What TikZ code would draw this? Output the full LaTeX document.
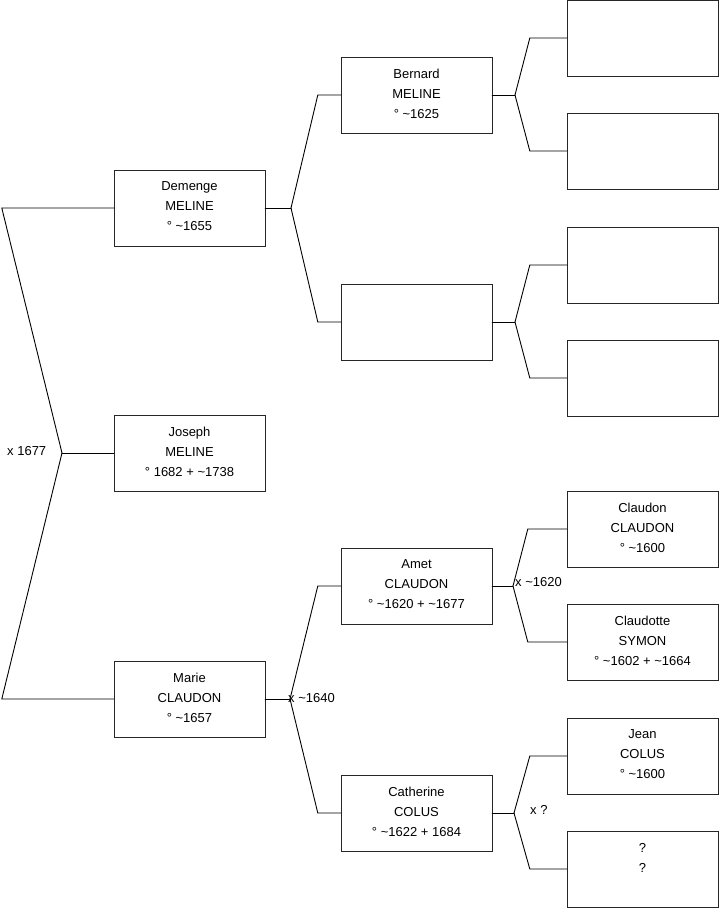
\documentclass[tikz,border=0pt]{standalone}
\usepackage{fontspec}
\setmainfont{Liberation Sans}
\usetikzlibrary{positioning}
\newcommand{\circa}{\textasciitilde}
\tikzset{pers/.style={draw=black!85,fill=white,minimum width=151pt,minimum height=76pt,align=center,inner sep=0pt,text depth=3pt},
 wire/.style={draw=black,line width=.9pt,line cap=round},lab/.style={anchor=west,inner sep=0pt}}
\begin{document}
\begin{tikzpicture}[x=1pt,y=-1pt,font=\fontsize{13}{20}\selectfont]
\useasboundingbox (0,0) rectangle (719,908);
% generation 1
\node[pers](dem) at (189.5,208){Demenge\\MELINE\\° \circa1655};
\node[pers](jos) at (189.5,453){Joseph\\MELINE\\° 1682 + \circa1738};
\node[pers](mar) at (189.5,699){Marie\\CLAUDON\\° \circa1657};
% generation 2
\node[pers](ber) at (416.5,95){Bernard\\MELINE\\° \circa1625};
\node[pers](dmo) at (416.5,322){};
\node[pers](ame) at (416.5,586){Amet\\CLAUDON\\° \circa1620 + \circa1677};
\node[pers](cat) at (416.5,813){Catherine\\COLUS\\° \circa1622 + 1684};
% generation 3
\node[pers](bfa) at (642.5,38){};\node[pers](bmo) at (642.5,151){};
\node[pers](mfa) at (642.5,265){};\node[pers](mmo) at (642.5,378){};
\node[pers](cla) at (642.5,529){Claudon\\CLAUDON\\° \circa1600};
\node[pers](sym) at (642.5,642){Claudotte\\SYMON\\° \circa1602 + \circa1664};
\node[pers](jea) at (642.5,756){Jean\\COLUS\\° \circa1600};
\node[pers](unk) at (642.5,869){?\\?\\{}};
% junctions
\coordinate(j0) at (62,453);
\coordinate(j1) at (291,208);\coordinate(j2) at (290,699);
\coordinate(j3) at (515,95);\coordinate(j4) at (515,322);
\coordinate(j5) at (513,586);\coordinate(j6) at (514,813);
% forks
\draw[wire](jos.west)--(j0);
\draw[wire](dem.west)--++(-112,0)--(j0);\draw[wire](mar.west)--++(-112,0)--(j0);
\draw[wire](dem.east)--(j1);
\draw[wire](ber.west)--++(-23,0)--(j1);\draw[wire](dmo.west)--++(-23,0)--(j1);
\draw[wire](mar.east)--(j2);
\draw[wire](ame.west)--++(-23,0)--(j2);\draw[wire](cat.west)--++(-23,0)--(j2);
\draw[wire](ber.east)--(j3);
\draw[wire](bfa.west)--++(-37,0)--(j3);\draw[wire](bmo.west)--++(-37,0)--(j3);
\draw[wire](dmo.east)--(j4);
\draw[wire](mfa.west)--++(-37,0)--(j4);\draw[wire](mmo.west)--++(-37,0)--(j4);
\draw[wire](ame.east)--(j5);
\draw[wire](cla.west)--++(-39,0)--(j5);\draw[wire](sym.west)--++(-39,0)--(j5);
\draw[wire](cat.east)--(j6);
\draw[wire](jea.west)--++(-37,0)--(j6);\draw[wire](unk.west)--++(-37,0)--(j6);
% marriages
\node[lab](m0) at (7,451){x 1677};
\node[lab](m2) at (288,698){x \circa1640};
\node[lab](m5) at (515,582){x \circa1620};
\node[lab](m6) at (530,810){x ?};
\end{tikzpicture}
\end{document}
